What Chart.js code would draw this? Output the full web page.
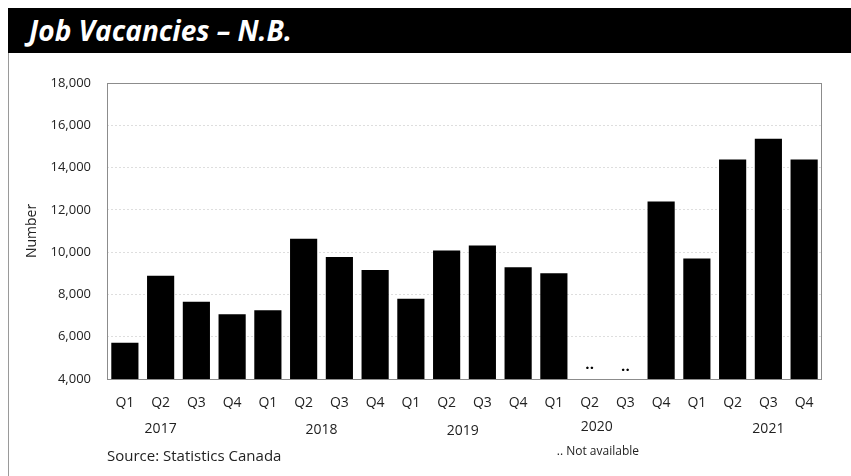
<!DOCTYPE html>
<html>
<head>
<meta charset="utf-8">
<script src="https://cdn.jsdelivr.net/npm/chart.js@4"></script>
<style>
  html, body { margin: 0; padding: 0; background: #fff; }
  body { width: 851px; height: 476px; position: relative; overflow: hidden; font-family: 'Open Sans', sans-serif; }
  #titleBar {
    position: absolute; left: 8px; top: 8px; width: 843px; height: 45px;
    background: #000; color: #fff;
    font-weight: bold; font-style: italic; font-size: 28px;
    line-height: 45px; padding-left: 21px; box-sizing: border-box;
  }
  #frame { position: absolute; left: 8px; top: 53px; width: 1px; height: 423px; background: #9a9a9a; }
  #wrap { position: absolute; left: 0; top: 0; width: 851px; height: 476px; }
</style>
</head>
<body>
<div id="wrap"><canvas id="barChart"></canvas></div>
<div id="titleBar">Job Vacancies – N.B.</div>
<div id="frame"></div>
<script>
let quarters = ['Q1', 'Q2', 'Q3', 'Q4', 'Q1', 'Q2', 'Q3', 'Q4', 'Q1', 'Q2', 'Q3', 'Q4',
                'Q1', 'Q2', 'Q3', 'Q4', 'Q1', 'Q2', 'Q3', 'Q4'];
let years = ['2017', '2018', '2019', '2020', '2021'];
let vacancies = [5710, 8880, 7650, 7060, 7250, 10630, 9770, 9150, 7790, 10080,
                 10320, 9290, 9000, null, null, 12390, 9700, 14380, 15360, 14380];
let yTicks = [4000, 6000, 8000, 10000, 12000, 14000, 16000, 18000];
let sourceText = 'Source: Statistics Canada';
let naText = '.. Not available';

// where each year label sits under its quarters (category index, y offset)
let yearSpots = [[1.0, 0], [5.5, 1], [9.45, 2], [13.2, -2], [18.0, 0]];

let ctx = document.getElementById('barChart').getContext('2d');

// frame round the plot, the ".." for missing quarters, the years and the notes
let extras = {
    id: 'extras',
    afterDraw(chart) {
        let c = chart.ctx;
        let a = chart.chartArea;
        let x = chart.scales.x;
        let y = chart.scales.y;
        c.save();
        c.strokeStyle = '#8c8c8c';
        c.lineWidth = 1;
        c.strokeRect(Math.round(a.left) + 0.5, Math.round(a.top) + 0.5,
                     Math.round(a.right - a.left) - 1, Math.round(a.bottom - a.top));

        c.fillStyle = '#000';
        c.font = 'bold 15px "Open Sans"';
        c.textAlign = 'center';
        c.textBaseline = 'middle';
        vacancies.forEach((v, i) => {
            if (v === null) {
                c.fillText('..', x.getPixelForValue(i), y.getPixelForValue(yTicks[0]) - 13 + (i % 2 ? -1 : 1));
            }
        });

        c.fillStyle = '#222';
        c.font = '14px "Open Sans"';
        years.forEach((yr, k) => {
            c.fillText(yr, x.getPixelForValue(yearSpots[k][0]), a.bottom + 50 + yearSpots[k][1]);
        });

        c.textAlign = 'left';
        c.font = '15px "Open Sans"';
        c.fillText(sourceText, a.left, a.bottom + 78);
        c.font = '12px "Open Sans"';
        c.fillText(naText, x.getPixelForValue(12.5) - 15, a.bottom + 73);
        c.restore();
    }
};

let chart = new Chart(ctx, {
    type: 'bar',
    plugins: [extras],
    options: {
        responsive: true,
        maintainAspectRatio: false,
        animation: false,
        layout: { padding: { left: 8, right: 29, top: 83, bottom: 67 } },
        plugins: {
            legend: { display: false },
            tooltip: { enabled: false }
        },
        scales: {
            x: {
                afterFit: (s) => { s.height = 30; },
                grid: { display: false, drawTicks: false },
                border: { display: false },
                ticks: {
                    color: '#222',
                    padding: 16,
                    maxRotation: 0,
                    autoSkip: false,
                    font: { family: 'Open Sans', size: 14 }
                }
            },
            y: {
                min: 4000,
                max: 18000,
                afterFit: (s) => { s.width = 99; },
                grid: {
                    color: '#dedede',
                    drawTicks: false
                },
                border: { display: false, dash: [2, 2] },
                ticks: {
                    stepSize: 2000,
                    color: '#222',
                    padding: 16,
                    font: { family: 'Open Sans', size: 13 },
                    callback: (v) => v.toLocaleString('en-US')
                },
                title: {
                    display: true,
                    text: 'Number',
                    color: '#222',
                    padding: { top: 16, bottom: 0 },
                    font: { family: 'Open Sans', size: 14 }
                }
            }
        }
    },
    data: {
        labels: quarters,
        datasets: [{
            label: 'Job vacancies',
            data: vacancies,
            backgroundColor: '#000',
            borderWidth: 0,
            barPercentage: 0.76,
            categoryPercentage: 1.0
        }]
    }
});
</script>
</body>
</html>
